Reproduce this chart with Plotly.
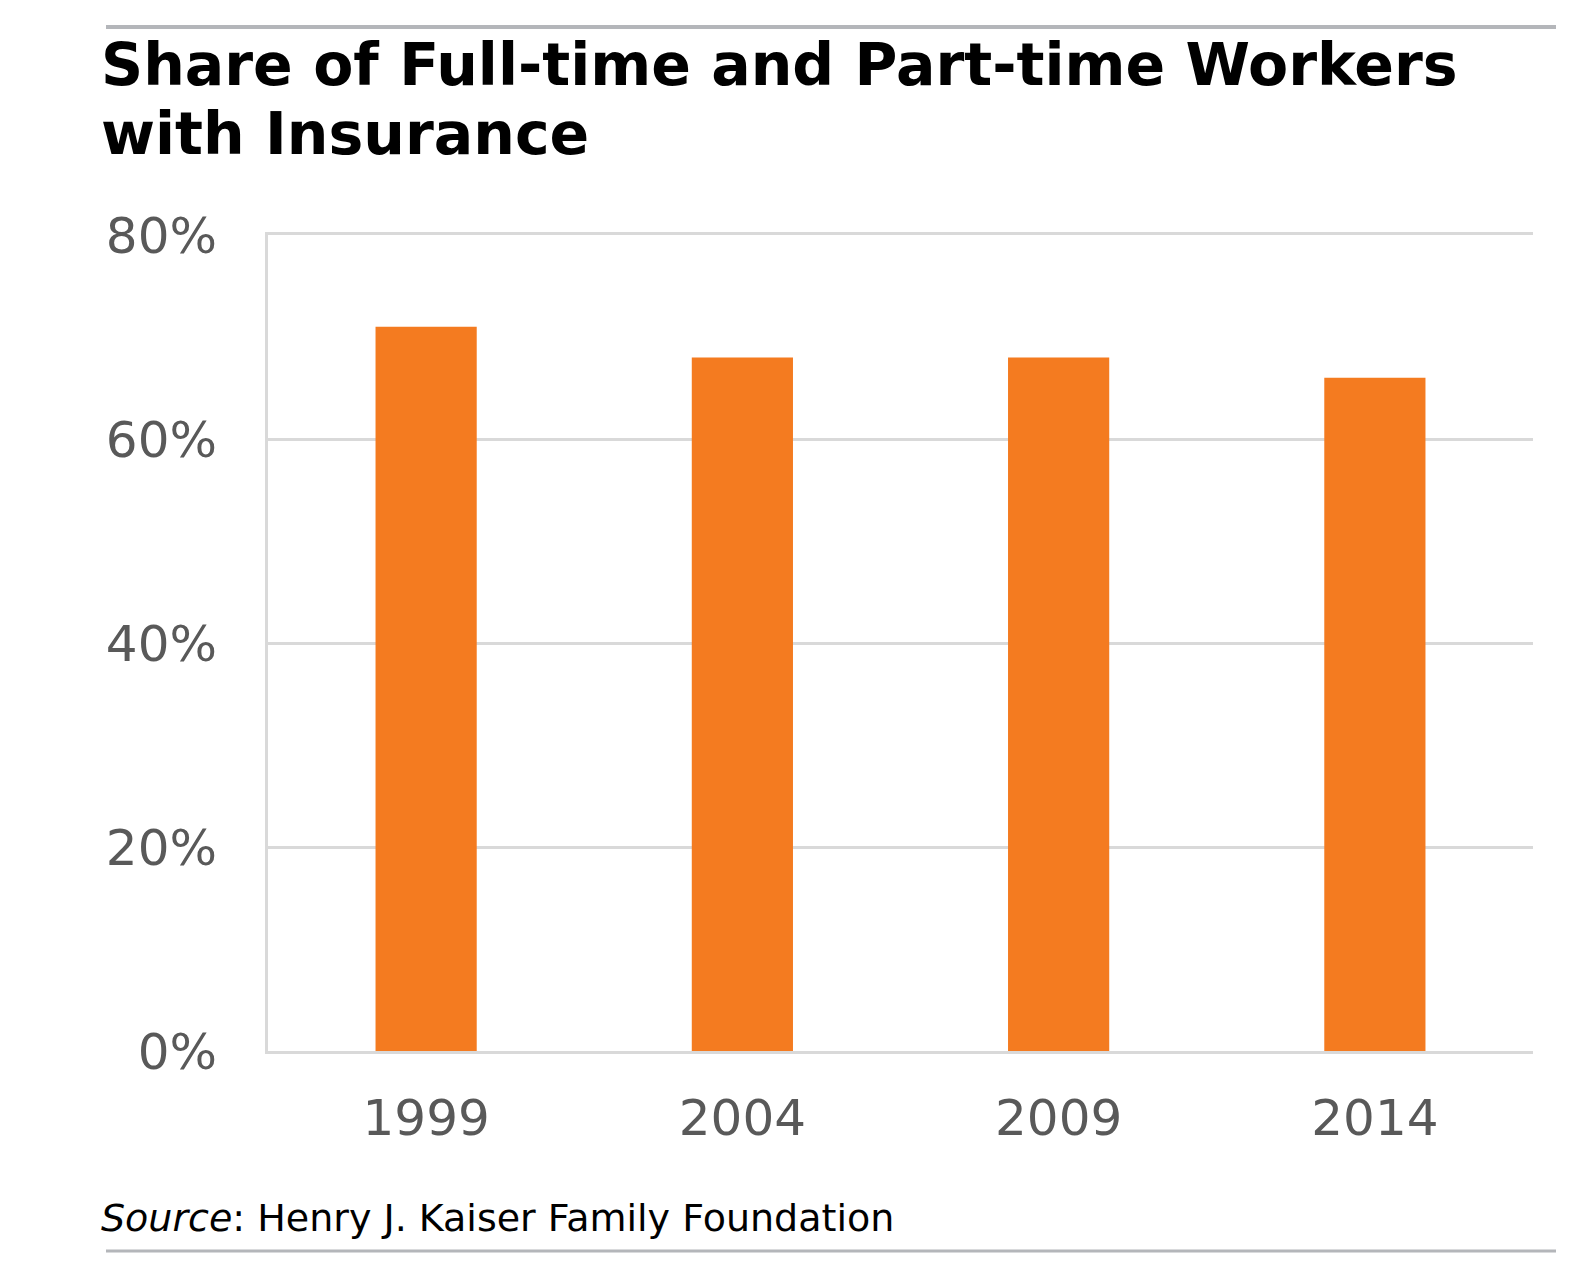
import plotly.graph_objects as go

years = ["1999", "2004", "2009", "2014"]
share_insured = [71, 68, 68, 66]
y_ticks = [0, 20, 40, 60, 80]
y_tick_labels = ["0%", "20%", "40%", "60%", "80%"]
title_line1 = "Share of Full-time and Part-time Workers"
title_line2 = "with Insurance"
source_text = "<i>Source</i>: Henry J. Kaiser Family Foundation"

W, H = 1580, 1275
L, R, T, B = 260, 55, 227, 232
pw = W - L - R
ph = H - T - B

def px_x(x):
    return (x - L) / pw

def px_y(y):
    return (H - B - y) / ph

fig = go.Figure()
fig.add_trace(go.Bar(
    x=years, y=share_insured,
    marker=dict(color="#F47B20", line=dict(width=0)),
    hoverinfo="skip",
))

fig.update_layout(
    width=W, height=H,
    margin=dict(l=L, r=R, t=T, b=B),
    paper_bgcolor="white", plot_bgcolor="white",
    bargap=0.68,
    showlegend=False,
    font=dict(family="DejaVu Sans", color="#595959"),
    xaxis=dict(
        type="category",
        showline=True, mirror=True, linecolor="#D9D9D9", linewidth=3,
        showgrid=False, ticks="",
        tickfont=dict(size=50, color="#595959", family="DejaVu Sans"),
        ticklabelstandoff=21,
    ),
    yaxis=dict(
        range=[0, 80], tickvals=y_ticks, ticktext=y_tick_labels,
        showline=True, linecolor="#D9D9D9", linewidth=3,
        showgrid=True, gridcolor="#D9D9D9", gridwidth=3,
        zeroline=False, ticks="",
        tickfont=dict(size=50, color="#595959", family="DejaVu Sans"),
        ticklabelstandoff=38,
    ),
    shapes=[
        dict(type="line", xref="paper", yref="paper",
             x0=px_x(98), x1=px_x(1548), y0=px_y(19), y1=px_y(19),
             line=dict(color="#B4B6BA", width=4)),
        dict(type="line", xref="paper", yref="paper",
             x0=px_x(98), x1=px_x(1548), y0=px_y(1243), y1=px_y(1243),
             line=dict(color="#B4B6BA", width=3)),
    ],
    annotations=[
        dict(text="<b>" + title_line1 + "</b>", xref="paper", yref="paper",
             x=px_x(91), y=px_y(57), xanchor="left", yanchor="middle",
             showarrow=False, font=dict(size=58.5, color="#000000", family="DejaVu Sans")),
        dict(text="<b>" + title_line2 + "</b>", xref="paper", yref="paper",
             x=px_x(91), y=px_y(126), xanchor="left", yanchor="middle",
             showarrow=False, font=dict(size=58.5, color="#000000", family="DejaVu Sans")),
        dict(text=source_text, xref="paper", yref="paper",
             x=px_x(91), y=px_y(1210), xanchor="left", yanchor="middle",
             showarrow=False, font=dict(size=38, color="#000000", family="DejaVu Sans")),
    ],
)

fig.write_html("out.html")
